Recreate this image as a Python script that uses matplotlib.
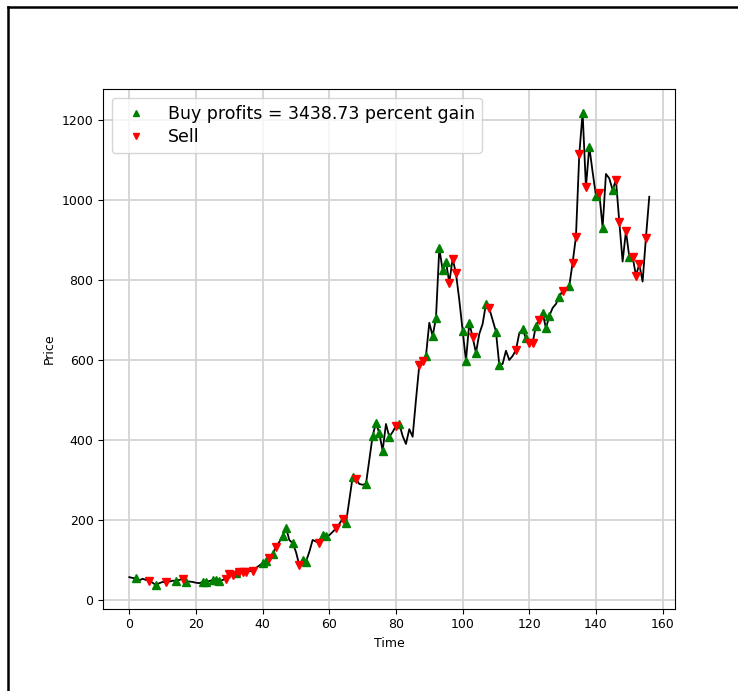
import matplotlib
matplotlib.use('Agg')
import matplotlib.pyplot as plt
from matplotlib.lines import Line2D

# price series (t = 0..156)
price = [57, 55, 54, 49, 53, 50, 48, 43, 37, 42,
         45, 44, 46, 48, 48, 50, 53, 46, 46, 45,
         43, 42, 45, 45, 47, 50, 50, 47, 50, 53,
         66, 63, 68, 71, 69, 70, 72, 73, 80, 86,
         92, 97, 104, 115, 133, 145, 161, 181, 150, 142,
         120, 87, 100, 96, 120, 150, 146, 142, 162, 160,
         162, 170, 179, 190, 203, 192, 250, 307, 302, 290,
         288, 290, 350, 410, 443, 417, 373, 440, 408, 420,
         435, 440, 410, 390, 427, 408, 500, 587, 598, 610,
         693, 660, 704, 879, 825, 846, 793, 853, 817, 750,
         673, 598, 693, 657, 618, 665, 690, 740, 729, 700,
         671, 587, 590, 623, 600, 610, 625, 667, 677, 654,
         643, 643, 685, 700, 718, 679, 710, 730, 740, 758,
         773, 779, 785, 843, 908, 1114, 1218, 1032, 1133, 1070,
         1011, 1017, 931, 1065, 1054, 1025, 1050, 946, 846, 922,
         858, 858, 811, 839, 796, 906, 1008]

buy_idx = [2, 8, 14, 17, 22, 23, 25, 26, 27, 32, 40, 41, 43, 46, 47, 49, 52, 53,
           58, 59, 65, 67, 71, 73, 74, 75, 76, 78, 81, 89, 91, 92, 93, 94, 95,
           100, 101, 102, 104, 107, 110, 111, 118, 119, 122, 124, 125, 126, 129,
           132, 136, 138, 140, 142, 145, 150]
sell_idx = [6, 11, 16, 29, 30, 31, 33, 34, 35, 37, 42, 44, 51, 57, 62, 64, 68, 80,
            87, 88, 96, 97, 98, 103, 108, 116, 120, 121, 123, 130, 133, 134, 135,
            137, 141, 146, 147, 149, 151, 152, 153, 155]

profit = 3438.73

fig = plt.figure(figsize=(7.38, 6.91), dpi=100)
ax = fig.add_axes([0.140, 0.119, 0.775, 0.752])

ax.plot(range(len(price)), price, color='black', lw=1.3)
ax.plot(buy_idx, [price[i] for i in buy_idx], '^', color='green', markersize=6,
        label='Buy profits = %.2f percent gain' % profit)
ax.plot(sell_idx, [price[i] for i in sell_idx], 'v', color='red', markersize=6,
        label='Sell')

ax.set_xlabel('Time', fontsize=9)
ax.set_ylabel('Price', fontsize=9)
ax.tick_params(labelsize=9)
ax.set_xticks(range(0, 161, 20))
ax.set_yticks(range(0, 1201, 200))
ax.grid(True, color='#d3d3d3', lw=1.3)
ax.set_axisbelow(True)
ax.legend(loc='upper left', fontsize=12.5, markerscale=0.75, labelspacing=0.3)

# black frame on the left and top of the screenshot
fig.add_artist(Line2D([0.0115, 0.0115], [0, 0.9905], color='black', lw=1.8))
fig.add_artist(Line2D([0.0115, 1], [0.9905, 0.9905], color='black', lw=1.8))

fig.savefig('out.png', dpi=100)
